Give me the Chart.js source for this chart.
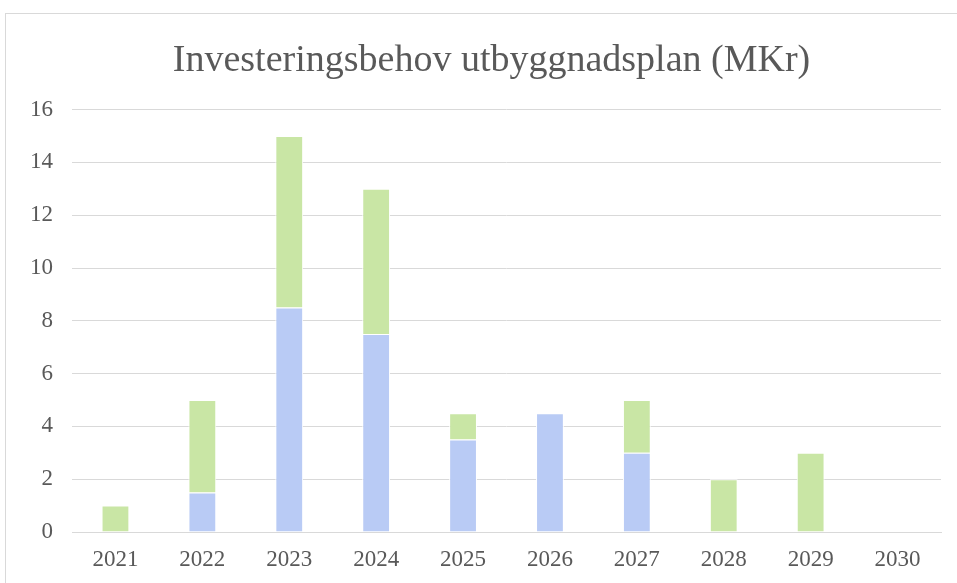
<!DOCTYPE html>
<html>
<head>
<meta charset="utf-8">
<script src="https://cdn.jsdelivr.net/npm/chart.js@4"></script>
<style>
  html, body { margin: 0; padding: 0; background: #fff; overflow: hidden; }
  #frame { position: absolute; left: 5px; top: 13px; width: 1000px; height: 700px; border: 1px solid #d9d9d9; }
  #wrap { position: absolute; left: 0; top: 0; width: 957px; height: 583px; }
</style>
</head>
<body>
<div id="frame"></div>
<div id="wrap"><canvas id="chart" width="957" height="583"></canvas></div>
<script>
const years = ['2021', '2022', '2023', '2024', '2025', '2026', '2027', '2028', '2029', '2030'];
const blueValues = [0, 1.5, 8.5, 7.5, 3.5, 4.5, 3, 0, 0, 0];
const greenValues = [1, 3.5, 6.5, 5.5, 1, 0, 2, 2, 3, 0];
const yTicks = [0, 2, 4, 6, 8, 10, 12, 14, 16];

const serif = '"Liberation Serif", "Times New Roman", serif';
const textColor = '#595959';

// nudge the title so it sits centred like in the original
const titleShift = {
  id: 'titleShift',
  afterLayout(chart) {
    const t = chart.titleBlock;
    if (t) { t.left = 26; t.right = 957; }
  }
};

new Chart(document.getElementById('chart'), {
  type: 'bar',
  data: {
    labels: years,
    datasets: [
      {
        label: 'Serie 1',
        data: blueValues,
        backgroundColor: '#b9cbf5',
        borderColor: '#ffffff',
        borderWidth: 1,
        barPercentage: 0.32,
        categoryPercentage: 1
      },
      {
        label: 'Serie 2',
        data: greenValues,
        backgroundColor: '#c9e6a5',
        borderColor: '#ffffff',
        borderWidth: 1,
        barPercentage: 0.32,
        categoryPercentage: 1
      }
    ]
  },
  options: {
    responsive: false,
    animation: false,
    layout: { padding: { left: 0, right: 16, top: 0, bottom: 0 } },
    scales: {
      x: {
        stacked: true,
        grid: { display: false, drawTicks: false },
        border: { display: true, color: '#d9d9d9', width: 1 },
        ticks: { color: textColor, font: { family: serif, size: 23 }, padding: 14 },
        afterFit(scale) { scale.height = 51; }
      },
      y: {
        stacked: true,
        min: 0,
        max: 16,
        afterBuildTicks(scale) { scale.ticks = yTicks.map(v => ({ value: v })); },
        grid: { color: '#d9d9d9', lineWidth: 1, drawTicks: false },
        border: { display: false },
        ticks: { color: textColor, font: { family: serif, size: 23 }, padding: 19 },
        afterFit(scale) { scale.width = 72; }
      }
    },
    plugins: {
      legend: { display: false },
      tooltip: { enabled: false },
      title: {
        display: true,
        text: 'Investeringsbehov utbyggnadsplan (MKr)',
        color: textColor,
        font: { family: serif, size: 38, weight: 'normal' },
        padding: { top: 38, bottom: 26 }
      }
    }
  },
  plugins: [titleShift]
});
</script>
</body>
</html>
